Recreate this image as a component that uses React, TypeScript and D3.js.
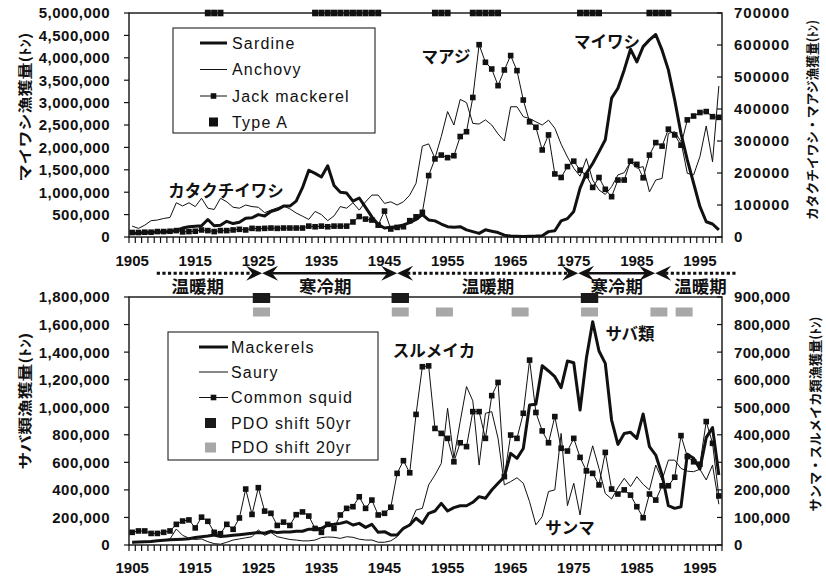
import React from "react";
import * as d3 from "d3";

// catch in thousand tonnes, one value per year 1905..1998
const years = d3.range(1905, 1999);

const sardine = [80, 90, 100, 105, 110, 115, 125, 150, 200, 230, 240, 250, 390, 250, 260, 350, 300, 330, 420, 430,
  500, 470, 570, 610, 690, 690, 800, 1100, 1490, 1420, 1340, 1590, 1150, 1000, 980, 800, 870, 660, 450, 280,
  200, 220, 230, 270, 320, 390, 500, 380, 360, 290, 230, 220, 230, 160, 120, 80, 160, 130, 100, 40,
  20, 15, 12, 15, 20, 30, 120, 140, 360, 410, 570, 1090, 1420, 1640, 1900, 2170, 3100, 3320, 3730, 4190,
  3910, 4250, 4400, 4520, 4170, 3730, 3060, 2310, 1720, 1200, 680, 340, 290, 160];

const anchovy = [34, 27, 37, 51, 53, 58, 61, 107, 97, 107, 95, 121, 90, 86, 121, 110, 93, 90, 100, 95,
  93, 76, 84, 91, 97, 88, 75, 65, 55, 80, 70, 51, 66, 95, 90, 107, 84, 110, 131, 131,
  105, 110, 100, 110, 131, 168, 284, 291, 246, 314, 392, 350, 430, 420, 355, 353, 366, 350, 322, 300,
  407, 407, 376, 370, 360, 350, 365, 340, 290, 250, 215, 190, 245, 178, 147, 133, 157, 194, 201, 235,
  215, 220, 141, 178, 183, 324, 329, 298, 199, 194, 251, 347, 235, 472];

const jackMackerel = [14, 14, 15, 15, 17, 17, 18, 20, 16, 17, 18, 22, 20, 17, 20, 20, 22, 24, 22, 27,
  26, 27, 28, 27, 28, 28, 28, 28, 34, 32, 34, 32, 34, 34, 34, 47, 64, 56, 53, 37,
  81, 25, 30, 32, 51, 63, 77, 192, 244, 256, 248, 254, 314, 329, 436, 601, 546, 525, 473, 522,
  567, 520, 428, 360, 343, 272, 319, 197, 186, 220, 237, 209, 192, 155, 186, 149, 126, 178, 178, 237,
  227, 185, 256, 295, 284, 337, 319, 287, 366, 378, 389, 392, 376, 374];

const typeAYears = [1917, 1918, 1919, 1934, 1935, 1936, 1937, 1938, 1939, 1940, 1941, 1942, 1943, 1944,
  1953, 1954, 1955, 1959, 1960, 1961, 1962, 1963, 1976, 1977, 1978, 1979, 1987, 1988, 1989, 1990];

const mackerels = [20, 22, 24, 26, 30, 34, 38, 40, 42, 45, 55, 60, 65, 72, 62, 66, 70, 75, 80, 85,
  90, 85, 100, 90, 95, 95, 100, 100, 115, 115, 121, 145, 150, 157, 169, 145, 157, 128, 150, 92,
  97, 73, 73, 121, 145, 194, 157, 230, 247, 302, 247, 271, 285, 285, 310, 351, 339, 399, 448, 496,
  665, 629, 700, 1016, 1021, 1301, 1263, 1222, 1142, 1335, 1323, 980, 1355, 1621, 1408, 1318, 907, 730, 810, 818,
  774, 951, 714, 653, 508, 285, 266, 278, 658, 629, 552, 779, 852, 508];

const saury = [8, 10, 12, 14, 15, 18, 22, 58, 35, 25, 20, 22, 12, 5, 3, 10, 18, 22, 26, 30,
  55, 35, 45, 30, 25, 20, 18, 15, 15, 18, 27, 29, 28, 24, 30, 28, 21, 18, 18, 10,
  10, 15, 30, 60, 75, 127, 133, 218, 254, 296, 496, 315, 448, 575, 523, 290, 478, 484, 387, 218,
  230, 244, 224, 157, 73, 103, 194, 200, 405, 143, 224, 109, 272, 360, 278, 187, 167, 208, 242, 212,
  248, 220, 200, 290, 236, 308, 308, 278, 268, 266, 275, 236, 290, 148];

const commonSquid = [46, 51, 51, 42, 42, 46, 51, 75, 87, 91, 62, 101, 86, 46, 41, 75, 57, 98, 203, 111,
  208, 123, 115, 71, 83, 71, 110, 120, 105, 60, 46, 75, 60, 109, 133, 139, 175, 133, 163, 109,
  115, 137, 260, 306, 262, 474, 647, 650, 423, 405, 387, 302, 371, 357, 484, 484, 387, 542, 590, 248,
  399, 387, 478, 671, 481, 414, 371, 466, 351, 341, 387, 318, 269, 260, 218, 336, 203, 185, 200, 181,
  139, 99, 185, 163, 215, 215, 246, 397, 321, 302, 293, 448, 369, 178];

const pdo50Years = [1926, 1948, 1978];
const pdo20Years = [1926, 1948, 1955, 1967, 1978, 1989, 1993];

// climate regimes between the panels (fractional years)
const regimeBounds = [1909.4, 1926.1, 1947.5, 1976.2, 1988.4, 2001.5];
const regimeKinds = ["warm", "cold", "warm", "cold", "warm"];
const regimeLabels = ["温暖期", "寒冷期", "温暖期", "寒冷期", "温暖期"];
const regimeLabelAt = [1915.9, 1936.1, 1961.9, 1982.3, 1995.6];

const yearLabels = [1905, 1915, 1925, 1935, 1945, 1955, 1965, 1975, 1985, 1995];
const sardineTicks = d3.range(0, 5001, 500);
const anchovyTicks = d3.range(0, 701, 100);
const mackerelTicks = d3.range(0, 1801, 200);
const squidTicks = d3.range(0, 901, 100);

const NUM = "'Liberation Sans', Arial, sans-serif";
const JP = "'Noto Sans CJK JP', 'Noto Sans CJK SC', sans-serif";

const plotL = 129, plotR = 722;
const x = d3.scaleBand<number>().domain(years).range([plotL, plotR]).padding(0);
const cx = (yr: number) => (x(yr) ?? 0) + x.bandwidth() / 2;
const xPos = d3.scaleLinear().domain([1905, 1999]).range([plotL, plotR]);

function Frame({top, bottom, yL, yR, leftTicks, rightTicks, fmtL, fmtR, spR}: any) {
  return (
    <g>
      <rect x={plotL} y={top} width={plotR - plotL} height={bottom - top} fill="none" stroke="#111" strokeWidth={1.4}/>
      {leftTicks.map((v: number) => (
        <g key={"l" + v}>
          <line x1={plotL - 5} x2={plotL} y1={yL(v)} y2={yL(v)} stroke="#111" strokeWidth={1.2}/>
          <text x={110} y={yL(v)} dy="0.36em" textAnchor="end" fontFamily={NUM} fontWeight="bold"
                fontSize={15} letterSpacing={0.5} fill="#111">{fmtL(v)}</text>
        </g>
      ))}
      {rightTicks.map((v: number) => (
        <g key={"r" + v}>
          <line x1={plotR - 5} x2={plotR} y1={yR(v)} y2={yR(v)} stroke="#111" strokeWidth={1.2}/>
          <text x={734} y={yR(v)} dy="0.36em" textAnchor="start" fontFamily={NUM} fontWeight="bold"
                fontSize={15} letterSpacing={spR} fill="#111">{fmtR(v)}</text>
        </g>
      ))}
      {d3.range(1905, 2000).map(yr => (
        <line key={"t" + yr} x1={xPos(yr)} x2={xPos(yr)} y1={bottom} y2={bottom + 6} stroke="#111" strokeWidth={1.2}/>
      ))}
    </g>
  );
}

function Series({data, y, width, markers}: any) {
  const line = d3.line<number>().x((_, i) => cx(years[i])).y(d => y(d));
  return (
    <g>
      <path d={line(data) ?? ""} fill="none" stroke="#111" strokeWidth={width} strokeLinejoin="round"/>
      {markers && data.map((d: number, i: number) => (
        <rect key={i} x={cx(years[i]) - 2.8} y={y(d) - 2.8} width={5.6} height={5.6} fill="#111"/>
      ))}
    </g>
  );
}

function LegendRow({y, label, kind, lx1, lx2, tx}: any) {
  const mid = (lx1 + lx2) / 2;
  return (
    <g>
      {kind === "thick" && <line x1={lx1} x2={lx2} y1={y} y2={y} stroke="#111" strokeWidth={3}/>}
      {kind === "thin" && <line x1={lx1} x2={lx2} y1={y} y2={y} stroke="#111" strokeWidth={1}/>}
      {kind === "marker" && <g>
        <line x1={lx1} x2={lx2} y1={y} y2={y} stroke="#111" strokeWidth={1}/>
        <rect x={mid - 2.8} y={y - 2.8} width={5.6} height={5.6} fill="#111"/>
      </g>}
      {kind === "square" && <rect x={mid - 4.5} y={y - 4.5} width={9} height={9} fill="#111"/>}
      {kind === "black" && <rect x={mid - 5.5} y={y - 5} width={11} height={10} fill="#1a1a1a"/>}
      {kind === "gray" && <rect x={mid - 5.5} y={y - 5} width={11} height={10} fill="#a8a8a8"/>}
      <text x={tx} y={y} dy="0.36em" fontFamily={NUM} fontSize={16} letterSpacing={1.2} fill="#111">{label}</text>
    </g>
  );
}

function Note({x, y, children}: any) {
  return <text x={x} y={y} textAnchor="middle" fontFamily={JP} fontWeight="bold" fontSize={16.5} fill="#111">{children}</text>;
}

function Arrowhead({x0, y0, dir}: any) {
  const d = `M${x0},${y0} L${x0 - dir * 16},${y0 - 7.5} L${x0 - dir * 10},${y0} L${x0 - dir * 16},${y0 + 7.5} Z`;
  return <path d={d} fill="#111"/>;
}

export default function App() {
  const top1 = 13, bot1 = 237, top2 = 297, bot2 = 545;
  const ySar = d3.scaleLinear().domain([0, 5000]).range([bot1, top1]);
  const yAnc = d3.scaleLinear().domain([0, 700]).range([bot1, top1]);
  const yMac = d3.scaleLinear().domain([0, 1800]).range([bot2, top2]);
  const ySq = d3.scaleLinear().domain([0, 900]).range([bot2, top2]);
  const comma = d3.format(",");
  const arrowY = 273.3;

  return (
    <svg width={826} height={577} style={{position: "absolute", left: 0, top: 0, background: "#fff"}}>
      <rect width={826} height={577} fill="#fff"/>

      {/* upper panel: sardine / anchovy / jack mackerel */}
      <Series data={anchovy} y={yAnc} width={1}/>
      <Series data={jackMackerel} y={yAnc} width={1} markers/>
      <Series data={sardine} y={ySar} width={3}/>
      <Frame top={top1} bottom={bot1} yL={ySar} yR={yAnc} leftTicks={sardineTicks} rightTicks={anchovyTicks}
             fmtL={(v: number) => comma(v * 1000)} fmtR={(v: number) => String(v * 1000)} spR={1}/>
      {typeAYears.map(yr => (
        <rect key={yr} x={cx(yr) - 3} y={top1 - 3.3} width={6} height={6.6} fill="#111"/>
      ))}
      {yearLabels.map(yr => (
        <text key={yr} x={cx(yr)} y={266} textAnchor="middle" fontFamily={NUM} fontWeight="bold" fontSize={15} fill="#111">{yr}</text>
      ))}
      <g>
        <rect x={173} y={28} width={202} height={105} fill="#fff" stroke="#222" strokeWidth={1.1}/>
        <LegendRow y={43} label="Sardine" kind="thick" lx1={200} lx2={227} tx={232}/>
        <LegendRow y={69.5} label="Anchovy" kind="thin" lx1={200} lx2={227} tx={232}/>
        <LegendRow y={96} label="Jack mackerel" kind="marker" lx1={200} lx2={227} tx={232}/>
        <LegendRow y={122} label="Type A" kind="square" lx1={200} lx2={227} tx={232}/>
      </g>
      <Note x={226} y={197}>カタクチイワシ</Note>
      <Note x={446} y={63}>マアジ</Note>
      <Note x={607} y={48}>マイワシ</Note>
      <text transform="translate(30,107) rotate(-90)" textAnchor="middle" fontFamily={JP} fontWeight="bold"
            fontSize={14} textLength={149} lengthAdjust="spacingAndGlyphs" fill="#111">マイワシ漁獲量(ﾄﾝ)</text>
      <text transform="translate(817,120) rotate(-90)" textAnchor="middle" fontFamily={JP} fontWeight="bold"
            fontSize={13} textLength={200} lengthAdjust="spacingAndGlyphs" fill="#111">カタクチイワシ・マアジ漁獲量(ﾄﾝ)</text>

      {/* regime arrows */}
      {regimeKinds.map((k, i) => {
        const a = xPos(regimeBounds[i]), b = xPos(regimeBounds[i + 1]);
        const first = i === 0, last = i === regimeKinds.length - 1;
        return (
          <g key={i}>
            <line x1={first ? a : a + 10} x2={last ? b : b - 10} y1={arrowY} y2={arrowY} stroke="#111"
                  strokeWidth={k === "warm" ? 3 : 2.6} strokeDasharray={k === "warm" ? "3.2,2.4" : undefined}/>
            {!first && <Arrowhead x0={a} y0={arrowY} dir={-1}/>}
            {!last && <Arrowhead x0={b} y0={arrowY} dir={1}/>}
            <text x={xPos(regimeLabelAt[i])} y={293} textAnchor="middle" fontFamily={JP} fontWeight="bold"
                  fontSize={17.5} fill="#111">{regimeLabels[i]}</text>
          </g>
        );
      })}

      {/* lower panel: mackerels / saury / common squid */}
      <Series data={saury} y={ySq} width={1}/>
      <Series data={commonSquid} y={ySq} width={1} markers/>
      <Series data={mackerels} y={yMac} width={3}/>
      <Frame top={top2} bottom={bot2} yL={yMac} yR={ySq} leftTicks={mackerelTicks} rightTicks={squidTicks}
             fmtL={(v: number) => comma(v * 1000)} fmtR={(v: number) => comma(v * 1000)} spR={0.3}/>
      {pdo50Years.map(yr => (
        <rect key={"b" + yr} x={xPos(yr) - 8.7} y={293} width={17.4} height={10} fill="#1a1a1a"/>
      ))}
      {pdo20Years.map(yr => (
        <rect key={"g" + yr} x={xPos(yr) - 8.5} y={307.5} width={17} height={9} fill="#a8a8a8"/>
      ))}
      {yearLabels.map(yr => (
        <text key={"b" + yr} x={cx(yr)} y={573} textAnchor="middle" fontFamily={NUM} fontWeight="bold" fontSize={15} fill="#111">{yr}</text>
      ))}
      <g>
        <rect x={168} y={332} width={210} height={128} fill="#fff" stroke="#222" strokeWidth={1.1}/>
        <LegendRow y={347} label="Mackerels" kind="thick" lx1={199} lx2={228} tx={231}/>
        <LegendRow y={372} label="Saury" kind="thin" lx1={199} lx2={228} tx={231}/>
        <LegendRow y={397.5} label="Common squid" kind="marker" lx1={199} lx2={228} tx={231}/>
        <LegendRow y={423} label="PDO shift 50yr" kind="black" lx1={199} lx2={222} tx={231}/>
        <LegendRow y={447.5} label="PDO shift 20yr" kind="gray" lx1={199} lx2={222} tx={231}/>
      </g>
      <Note x={434} y={357}>スルメイカ</Note>
      <Note x={630} y={340}>サバ類</Note>
      <Note x={570} y={534}>サンマ</Note>
      <text transform="translate(30,401) rotate(-90)" textAnchor="middle" fontFamily={JP} fontWeight="bold"
            fontSize={14} textLength={137} lengthAdjust="spacingAndGlyphs" fill="#111">サバ類漁獲量(ﾄﾝ)</text>
      <text transform="translate(820,414) rotate(-90)" textAnchor="middle" fontFamily={JP} fontWeight="bold"
            fontSize={13} textLength={195} lengthAdjust="spacingAndGlyphs" fill="#111">サンマ・スルメイカ類漁獲量(ﾄﾝ)</text>
    </svg>
  );
}
